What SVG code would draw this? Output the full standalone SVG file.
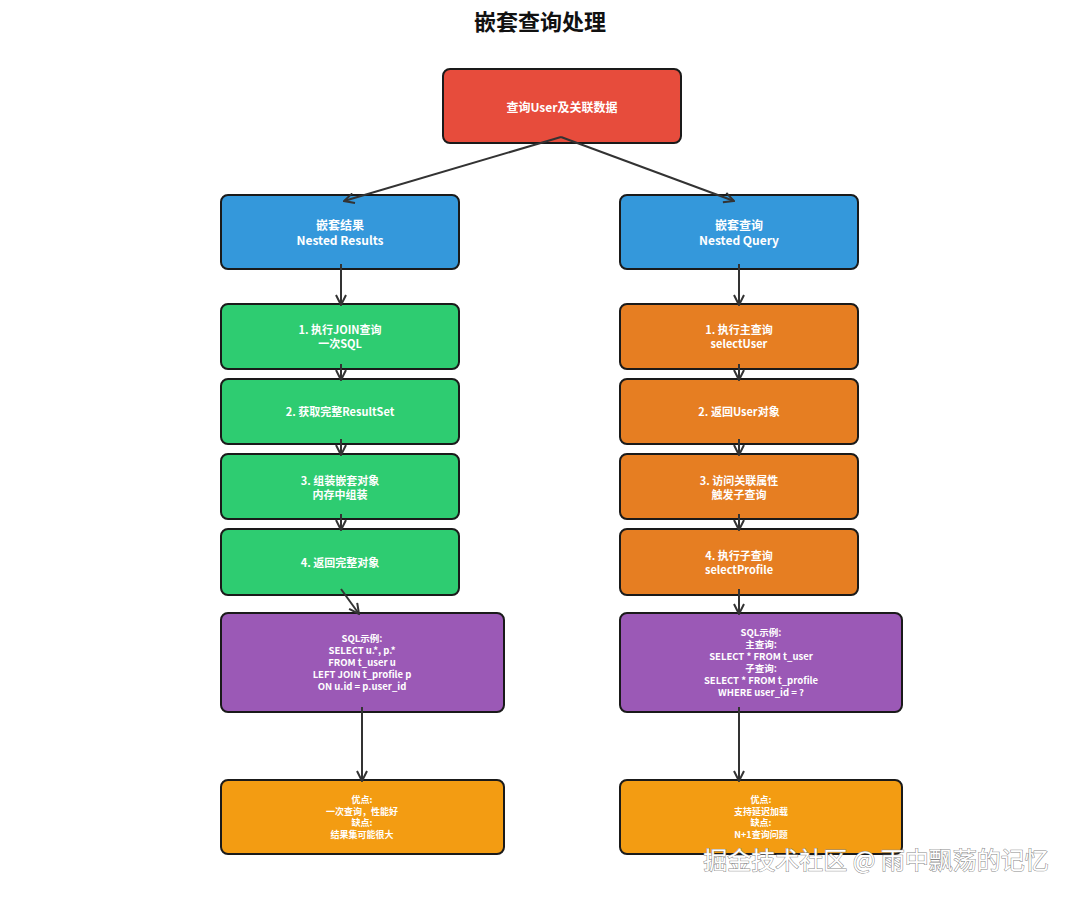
<svg xmlns="http://www.w3.org/2000/svg" width="1080" height="898" viewBox="0 0 1080 898">
<defs>
<marker id="ah" viewBox="0 0 12 12" refX="11" refY="6" markerWidth="12" markerHeight="12" markerUnits="userSpaceOnUse" orient="auto">
<path d="M1,1 L11,6 L1,11" fill="none" stroke="#333" stroke-width="2"/>
</marker>
<style>
.n{stroke:#1a1a1a;stroke-width:2}
.t{font-family:"Noto Sans CJK SC","Microsoft YaHei","Noto Sans",sans-serif;font-weight:bold;fill:#fff;text-anchor:middle;dominant-baseline:central}
.c line{stroke:#333;stroke-width:2;marker-end:url(#ah)}
</style>
</defs>
<rect width="1080" height="898" fill="#fff"/>
<text x="540" y="20" font-family="'Noto Sans CJK SC',sans-serif" font-weight="bold" font-size="22" text-anchor="middle" dominant-baseline="central" fill="#111">嵌套查询处理</text>

<g id="root"><rect class="n" x="443" y="69" width="238" height="74" rx="7" fill="#E74C3C"/>
<text class="t" x="562" y="106" font-size="12">查询User及关联数据</text></g>

<g id="nestedResults"><rect class="n" x="221" y="195" width="238" height="74" rx="7" fill="#3498DB"/>
<text class="t" x="340" y="224" font-size="12">嵌套结果</text><text class="t" x="340" y="239" font-size="12">Nested Results</text></g>
<g id="nestedQuery"><rect class="n" x="620" y="195" width="238" height="74" rx="7" fill="#3498DB"/>
<text class="t" x="739" y="224" font-size="12">嵌套查询</text><text class="t" x="739" y="239" font-size="12">Nested Query</text></g>

<g id="l1"><rect class="n" x="221" y="304" width="238" height="65" rx="7" fill="#2ECC71"/>
<text class="t" x="340" y="329" font-size="11">1. 执行JOIN查询</text><text class="t" x="340" y="343" font-size="11">一次SQL</text></g>
<g id="l2"><rect class="n" x="221" y="379" width="238" height="65" rx="7" fill="#2ECC71"/>
<text class="t" x="340" y="411" font-size="11">2. 获取完整ResultSet</text></g>
<g id="l3"><rect class="n" x="221" y="454" width="238" height="65" rx="7" fill="#2ECC71"/>
<text class="t" x="340" y="480" font-size="11">3. 组装嵌套对象</text><text class="t" x="340" y="494" font-size="11">内存中组装</text></g>
<g id="l4"><rect class="n" x="221" y="529" width="238" height="66" rx="7" fill="#2ECC71"/>
<text class="t" x="340" y="562" font-size="11">4. 返回完整对象</text></g>

<g id="r1"><rect class="n" x="620" y="304" width="238" height="65" rx="7" fill="#E67E22"/>
<text class="t" x="739" y="329" font-size="11">1. 执行主查询</text><text class="t" x="739" y="343" font-size="11">selectUser</text></g>
<g id="r2"><rect class="n" x="620" y="379" width="238" height="65" rx="7" fill="#E67E22"/>
<text class="t" x="739" y="411" font-size="11">2. 返回User对象</text></g>
<g id="r3"><rect class="n" x="620" y="454" width="238" height="65" rx="7" fill="#E67E22"/>
<text class="t" x="739" y="480" font-size="11">3. 访问关联属性</text><text class="t" x="739" y="494" font-size="11">触发子查询</text></g>
<g id="r4"><rect class="n" x="620" y="529" width="238" height="66" rx="7" fill="#E67E22"/>
<text class="t" x="739" y="555" font-size="11">4. 执行子查询</text><text class="t" x="739" y="569" font-size="11">selectProfile</text></g>

<g id="sqlLeft"><rect class="n" x="221" y="613" width="283" height="99" rx="7" fill="#9B59B6"/>
<text class="t" x="362" y="638" font-size="9.5">SQL示例:</text>
<text class="t" x="362" y="650" font-size="9.5">SELECT u.*, p.*</text>
<text class="t" x="362" y="662" font-size="9.5">FROM t_user u</text>
<text class="t" x="362" y="674" font-size="9.5">LEFT JOIN t_profile p</text>
<text class="t" x="362" y="686" font-size="9.5">ON u.id = p.user_id</text></g>
<g id="sqlRight"><rect class="n" x="620" y="613" width="282" height="99" rx="7" fill="#9B59B6"/>
<text class="t" x="761" y="632" font-size="9.5">SQL示例:</text>
<text class="t" x="761" y="644" font-size="9.5">主查询:</text>
<text class="t" x="761" y="656" font-size="9.5">SELECT * FROM t_user</text>
<text class="t" x="761" y="668" font-size="9.5">子查询:</text>
<text class="t" x="761" y="680" font-size="9.5">SELECT * FROM t_profile</text>
<text class="t" x="761" y="692" font-size="9.5">WHERE user_id = ?</text></g>

<g id="prosLeft"><rect class="n" x="221" y="780" width="283" height="74" rx="7" fill="#F39C12"/>
<text class="t" x="362" y="799.5" font-size="9">优点:</text>
<text class="t" x="362" y="811" font-size="9">一次查询，性能好</text>
<text class="t" x="362" y="822.5" font-size="9">缺点:</text>
<text class="t" x="362" y="834" font-size="9">结果集可能很大</text></g>
<g id="prosRight"><rect class="n" x="620" y="780" width="282" height="74" rx="7" fill="#F39C12"/>
<text class="t" x="761" y="799.5" font-size="9">优点:</text>
<text class="t" x="761" y="811" font-size="9">支持延迟加载</text>
<text class="t" x="761" y="822.5" font-size="9">缺点:</text>
<text class="t" x="761" y="834" font-size="9">N+1查询问题</text></g>

<g class="c" id="connectors">
<line x1="561" y1="137" x2="344" y2="201"/>
<line x1="561" y1="137" x2="734" y2="201"/>
<line x1="341" y1="264" x2="341" y2="305"/>
<line x1="341" y1="364" x2="341" y2="380"/>
<line x1="341" y1="439" x2="341" y2="455"/>
<line x1="341" y1="514" x2="341" y2="530"/>
<line x1="341" y1="589" x2="359" y2="614"/>
<line x1="362" y1="707" x2="362" y2="781"/>
<line x1="739" y1="264" x2="739" y2="305"/>
<line x1="739" y1="364" x2="739" y2="380"/>
<line x1="739" y1="439" x2="739" y2="455"/>
<line x1="739" y1="514" x2="739" y2="530"/>
<line x1="739" y1="589" x2="739" y2="614"/>
<line x1="739" y1="707" x2="739" y2="781"/>
</g>

<text x="876" y="858" font-family="'Noto Sans CJK SC',sans-serif" font-size="24" text-anchor="middle" dominant-baseline="central" fill="#fff" stroke="#888" stroke-width="1" paint-order="stroke">掘金技术社区 @ 雨中飘荡的记忆</text>
</svg>
